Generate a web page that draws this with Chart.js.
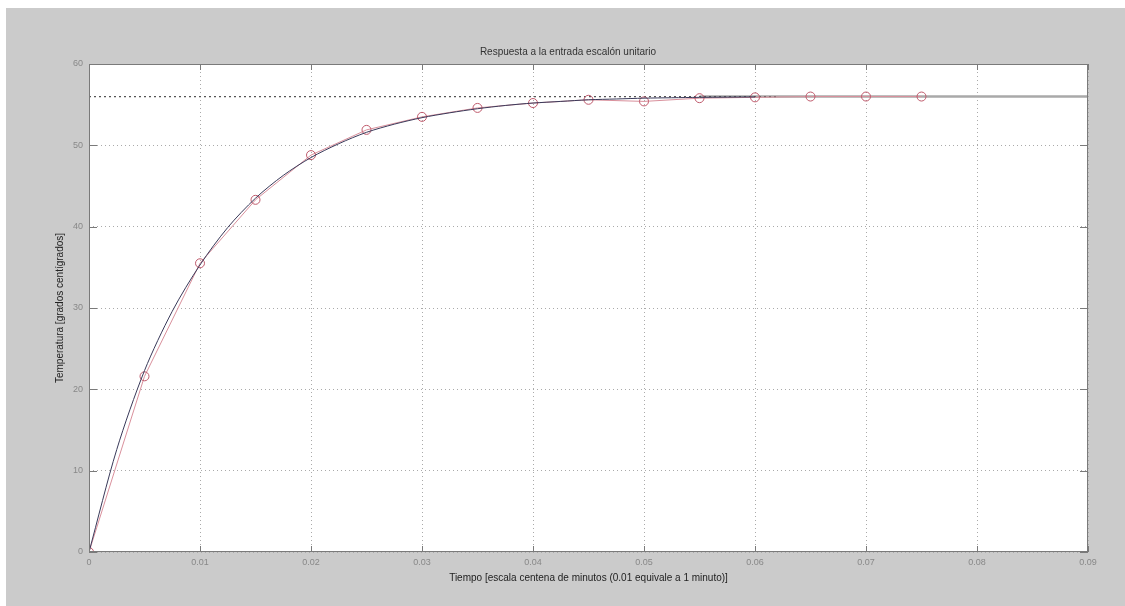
<!DOCTYPE html>
<html><head><meta charset="utf-8">
<script src="https://cdn.jsdelivr.net/npm/chart.js@4.4.0/dist/chart.umd.min.js"></script>
<style>html,body{margin:0;padding:0;background:#fff}#c{display:block}</style>
</head><body>
<canvas id="c" width="1125" height="606"></canvas>
<script>
const xTicks = [0,0.01,0.02,0.03,0.04,0.05,0.06,0.07,0.08,0.09];
const yTicks = [0,10,20,30,40,50,60];
const measT = [0,0.005,0.01,0.015,0.02,0.025,0.03,0.035,0.04,0.045,0.05,0.055,0.06,0.065,0.07,0.075];
const measV = [0,21.6,35.5,43.3,48.8,51.9,53.5,54.6,55.2,55.6,55.4,55.8,55.9,56,56,56];
const modelT = [0,0.0025,0.005,0.0075,0.01,0.0125,0.015,0.0175,0.02,0.0225,0.025,0.0275,0.03,0.0325,0.035,0.0375,0.04,0.0425,0.045,0.0475,0.05,0.0525,0.055,0.06];
const modelV = [0,12.6,22.3,29.6,35.3,39.9,43.5,46.3,48.5,50.2,51.6,52.6,53.4,54.0,54.5,54.9,55.2,55.4,55.6,55.7,55.8,55.85,55.9,55.95];
const refT = [0,0.062];
const refV = [56,56];
const tailT = [0.055,0.09];
const tailV = [56,56];

const pts = (t,v)=>t.map((x,i)=>({x:x,y:v[i]}));

const bgPlugin = {
  id:'bg',
  beforeDraw(chart){
    const c=chart.ctx, a=chart.chartArea;
    c.save();
    c.fillStyle='#ffffff'; c.fillRect(0,0,chart.width,chart.height);
    c.fillStyle='#cbcbcb'; c.fillRect(6,8,chart.width-6,chart.height-8);
    c.fillStyle='#ffffff'; c.fillRect(a.left,a.top,a.right-a.left,a.bottom-a.top);
    c.restore();
  },
  afterDatasetsDraw(chart){
    const c=chart.ctx, a=chart.chartArea;
    c.save();
    c.strokeStyle='#7a7a7a'; c.lineWidth=1;
    c.strokeRect(a.left+0.5,a.top+0.5,a.right-a.left-1,a.bottom-a.top-1);
    const xs=chart.scales.x, ys=chart.scales.y;
    c.beginPath();
    xTicks.forEach(v=>{const p=Math.round(xs.getPixelForValue(v))+0.5;c.moveTo(p,a.bottom);c.lineTo(p,a.bottom-6);c.moveTo(p,a.top);c.lineTo(p,a.top+6);});
    yTicks.forEach(v=>{const p=Math.round(ys.getPixelForValue(v))+0.5;c.moveTo(a.left,p);c.lineTo(a.left+8,p);c.moveTo(a.right,p);c.lineTo(a.right-8,p);});
    c.stroke();
    c.restore();
  }
};

new Chart(document.getElementById('c'),{
  type:'scatter',
  data:{datasets:[
    {data:pts(tailT,tailV),showLine:true,borderColor:'#a9a9a9',borderWidth:2.5,pointRadius:0,order:5},
    {data:pts(refT,refV),showLine:true,borderColor:'#555555',borderWidth:1.2,borderDash:[2,3],pointRadius:0,order:4},
    {data:pts(measT,measV),showLine:true,borderColor:'#d9909c',borderWidth:1,pointRadius:4.5,pointBorderWidth:1,pointBorderColor:'#c05a6c',pointBackgroundColor:'rgba(0,0,0,0)',order:2},
    {data:pts(modelT,modelV),showLine:true,borderColor:'#3a3a5a',borderWidth:1,pointRadius:0,tension:0.3,order:1}
  ]},
  plugins:[bgPlugin],
  options:{
    responsive:false,animation:false,
    layout:{padding:{left:48,right:37,top:0,bottom:0}},
    plugins:{
      legend:{display:false},tooltip:{enabled:false},
      title:{display:true,text:'Respuesta a la entrada escalón unitario',color:'#333',font:{family:'Arial, Liberation Sans',size:10,weight:'normal'},padding:{top:46,bottom:6}}
    },
    scales:{
      x:{type:'linear',min:0,max:0.09,
        afterBuildTicks(s){s.ticks=xTicks.map(v=>({value:v}));},
        afterFit(s){s.height=54;},
        ticks:{color:'#888',font:{family:'Arial, Liberation Sans',size:9},padding:5,autoSkip:false,maxRotation:0,callback:v=>String(v)},
        grid:{color:'#aaaaaa',lineWidth:1,drawTicks:false},
        border:{display:false,dash:[1,3]},
        title:{display:true,text:'Tiempo [escala centena de minutos (0.01 equivale a 1 minuto)]',color:'#222',font:{family:'Arial, Liberation Sans',size:10},padding:{top:3,bottom:22}}
      },
      y:{type:'linear',min:0,max:60,
        afterBuildTicks(s){s.ticks=yTicks.map(v=>({value:v}));},
        afterFit(s){s.width=41;},
        ticks:{color:'#888',font:{family:'Arial, Liberation Sans',size:9},padding:6,callback:v=>String(v)},
        grid:{color:'#aaaaaa',lineWidth:1,drawTicks:false},
        border:{display:false,dash:[1,3]},
        title:{display:true,text:'Temperatura [grados centígrados]',color:'#222',font:{family:'Arial, Liberation Sans',size:10},padding:{top:6,bottom:0}}
      }
    }
  }
});
</script>
</body></html>
